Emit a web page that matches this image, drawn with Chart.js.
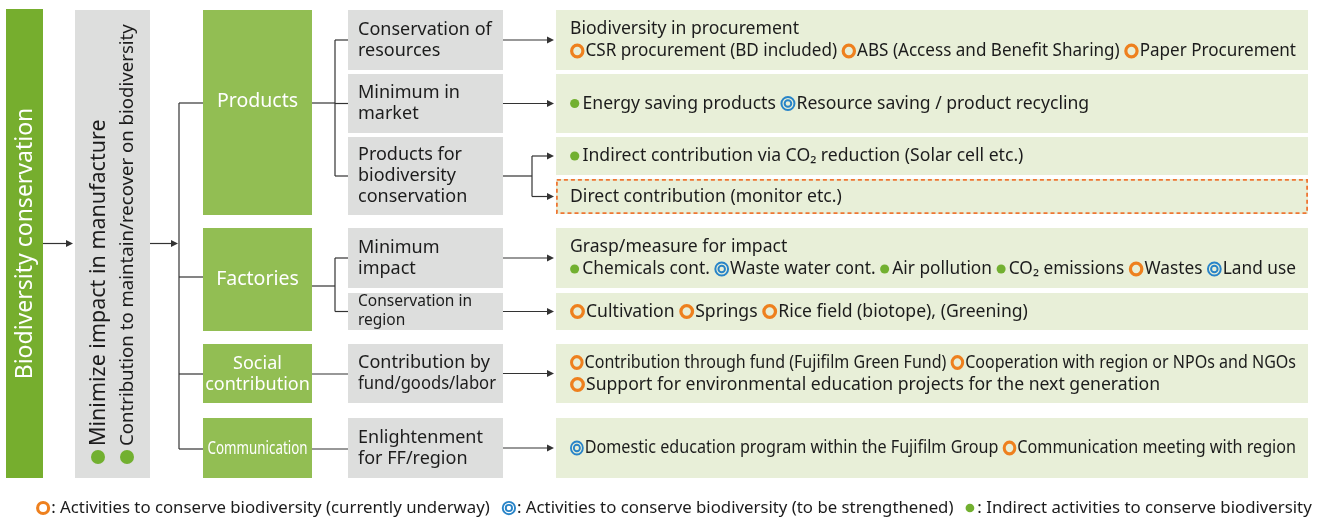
<!DOCTYPE html>
<html>
<head>
<meta charset="utf-8">
<script src="https://cdn.jsdelivr.net/npm/chart.js@4.4.1/dist/chart.umd.min.js"></script>
<style>
  body { margin: 0; background: #fff; }
  #chart { display: block; }
</style>
</head>
<body>
<canvas id="chart" width="1317" height="517"></canvas>
<script>
// diagram content
const rootLabel = 'Biodiversity conservation';
const aims = ['Minimize impact in manufacture', 'Contribution to maintain/recover on biodiversity'];
const areas = [['Products'], ['Factories'], ['Social', 'contribution'], ['Communication']];
const measures = [
  ['Conservation of', 'resources'],
  ['Minimum in', 'market'],
  ['Products for', 'biodiversity', 'conservation'],
  ['Minimum', 'impact'],
  ['Conservation in', 'region'],
  ['Contribution by', 'fund/goods/labor'],
  ['Enlightenment', 'for FF/region']
];
// {o} orange ring, {b} blue double ring, {g} green dot
const activities = [
  ['Biodiversity in procurement', '{o}CSR procurement (BD included) {o}ABS (Access and Benefit Sharing) {o}Paper Procurement'],
  ['{g}Energy saving products {b}Resource saving / product recycling'],
  ['{g}Indirect contribution via CO\u2082 reduction (Solar cell etc.)'],
  ['Direct contribution (monitor etc.)'],
  ['Grasp/measure for impact', '{g}Chemicals cont. {b}Waste water cont. {g}Air pollution {g}CO\u2082 emissions {o}Wastes {b}Land use'],
  ['{o}Cultivation {o}Springs {o}Rice field (biotope), (Greening)'],
  ['{o}Contribution through fund (Fujifilm Green Fund) {o}Cooperation with region or NPOs and NGOs', '{o}Support for environmental education projects for the next generation'],
  ['{b}Domestic education program within the Fujifilm Group {o}Communication meeting with region']
];
const legendMarks = ['o', 'b', 'g'];
const legendLabels = [
  'Activities to conserve biodiversity (currently underway)',
  'Activities to conserve biodiversity (to be strengthened)',
  'Indirect activities to conserve biodiversity'
];

// layout, in scale units
const rootBox = [6, 9, 43, 478];
const aimBox = [75, 10, 150, 478];
const areaCol = [203, 312];
const areaRows = [[10, 215], [228, 331], [344, 403], [418, 478]];
const areaInY = [103, 277, 374, 449];
const areaOutY = [103, 286, 374, 449];
const measureCol = [348, 503];
const measureRows = [[10, 70], [74, 133], [137, 215], [228, 288], [293, 330], [344, 403], [418, 478]];
const measureArea = [0, 0, 0, 1, 1, 2, 3];
const activityCol = [556, 1308];
const activityRows = [[10, 70], [74, 133], [137, 175], [179, 214], [228, 288], [293, 330], [344, 403], [418, 478]];
const activityMeasure = [0, 1, 2, 2, 3, 4, 5, 6];
const activityDashed = [false, false, false, true, false, false, false, false];

const FONT = '"Noto Sans", "Open Sans", sans-serif';
const C = {
  root: 'rgb(118,174,46)',
  area: 'rgb(146,190,83)',
  grey: 'rgb(221,222,221)',
  pale: 'rgb(232,239,216)',
  orange: 'rgb(238,128,30)',
  dash: 'rgb(238,118,50)',
  blue: 'rgb(40,132,200)',
  dot: 'rgb(114,176,48)',
  ink: '#1c1c1c',
  line: '#333'
};

function drawMark(ctx, kind, x, y, s) {
  s = s || 1;
  ctx.save();
  if (kind === 'o') {
    ctx.strokeStyle = C.orange;
    ctx.lineWidth = 3.3 * s;
    ctx.beginPath(); ctx.arc(x + 7.5 * s, y, 5.8 * s, 0, Math.PI * 2); ctx.stroke();
    ctx.restore();
    return 16 * s;
  }
  if (kind === 'b') {
    ctx.strokeStyle = C.blue;
    ctx.lineWidth = 2 * s;
    ctx.beginPath(); ctx.arc(x + 7.5 * s, y, 6.5 * s, 0, Math.PI * 2); ctx.stroke();
    ctx.beginPath(); ctx.arc(x + 7.5 * s, y, 3.3 * s, 0, Math.PI * 2); ctx.stroke();
    ctx.restore();
    return 16 * s;
  }
  ctx.fillStyle = C.dot;
  ctx.beginPath(); ctx.arc(x + 4.7 * s, y, 4.6 * s, 0, Math.PI * 2); ctx.fill();
  ctx.restore();
  return 12.5 * s;
}

// rich line: text runs with inline marks, squeezed if wider than maxW
function drawRich(ctx, str, x, y, maxW) {
  const parts = str.split(/\{([obg])\}/);
  let w = 0;
  parts.forEach((p, i) => {
    if (i % 2 === 1) w += p === 'g' ? 12.5 : 16;
    else if (p) w += ctx.measureText(p).width;
  });
  const k = w > maxW ? maxW / w : 1;
  ctx.save();
  ctx.translate(x, y);
  ctx.scale(k, 1);
  let cx = 0;
  parts.forEach((p, i) => {
    if (i % 2 === 1) {
      cx += drawMark(ctx, p, cx, 0);
    } else if (p) {
      ctx.fillText(p, cx, 0);
      cx += ctx.measureText(p).width;
    }
  });
  ctx.restore();
}

const diagram = {
  id: 'diagram',
  afterDraw(chart) {
    const ctx = chart.ctx;
    const X = v => chart.scales.x.getPixelForValue(v);
    const Y = v => chart.scales.y.getPixelForValue(v);
    const box = (x0, y0, x1, y1, fill) => {
      ctx.fillStyle = fill;
      ctx.fillRect(X(x0), Y(y0), X(x1) - X(x0), Y(y1) - Y(y0));
    };
    const line = (x0, y0, x1, y1) => {
      ctx.beginPath(); ctx.moveTo(X(x0), Y(y0)); ctx.lineTo(X(x1), Y(y1)); ctx.stroke();
    };
    const arrow = (x0, x1, y) => {
      line(x0, y, x1 - 5, y);
      ctx.beginPath();
      ctx.moveTo(X(x1), Y(y));
      ctx.lineTo(X(x1) - 7, Y(y) - 3.5);
      ctx.lineTo(X(x1) - 7, Y(y) + 3.5);
      ctx.closePath();
      ctx.fill();
    };
    const lines = (arr, x, yc, lh, align, maxW) => {
      ctx.textAlign = align;
      arr.forEach((t, i) => ctx.fillText(t, x, yc + (i - (arr.length - 1) / 2) * lh, maxW));
    };

    ctx.save();
    ctx.textBaseline = 'middle';

    // boxes
    box(...rootBox, C.root);
    box(...aimBox, C.grey);
    areaRows.forEach(r => box(areaCol[0], r[0], areaCol[1], r[1], C.area));
    measureRows.forEach(r => box(measureCol[0], r[0], measureCol[1], r[1], C.grey));
    activityRows.forEach((r, i) => {
      box(activityCol[0], r[0], activityCol[1], r[1], C.pale);
      if (activityDashed[i]) {
        ctx.save();
        ctx.strokeStyle = C.dash;
        ctx.lineWidth = 1.8;
        ctx.setLineDash([4, 3]);
        ctx.strokeRect(X(activityCol[0]) + 0.9, Y(r[0]) + 0.9, X(activityCol[1]) - X(activityCol[0]) - 1.8, Y(r[1]) - Y(r[0]) - 1.8);
        ctx.restore();
      }
    });

    // connectors
    ctx.strokeStyle = C.line;
    ctx.fillStyle = C.line;
    ctx.lineWidth = 1.2;
    const midY = (rootBox[1] + rootBox[3]) / 2;
    arrow(rootBox[2], aimBox[0] - 2, midY);
    const bx = 179;
    arrow(aimBox[2], bx - 1, midY);
    line(bx, areaInY[0], bx, areaInY[areaInY.length - 1]);
    areaInY.forEach(y => line(bx, y, areaCol[0], y));

    const mc = r => (r[0] + r[1]) / 2;
    areas.forEach((a, ai) => {
      const idx = measureArea.map((m, i) => m === ai ? i : -1).filter(i => i >= 0);
      if (idx.length === 1) {
        line(areaCol[1], areaOutY[ai], measureCol[0], areaOutY[ai]);
      } else {
        const kx = 335;
        line(areaCol[1], areaOutY[ai], kx, areaOutY[ai]);
        line(kx, mc(measureRows[idx[0]]), kx, mc(measureRows[idx[idx.length - 1]]));
        idx.forEach(i => line(kx, mc(measureRows[i]), measureCol[0], mc(measureRows[i])));
      }
    });
    measures.forEach((m, mi) => {
      const idx = activityMeasure.map((v, i) => v === mi ? i : -1).filter(i => i >= 0);
      const y = mc(measureRows[mi]);
      if (idx.length === 1) {
        arrow(measureCol[1], activityCol[0] - 2, y);
      } else {
        const kx = 532;
        line(measureCol[1], y, kx, y);
        line(kx, mc(activityRows[idx[0]]), kx, mc(activityRows[idx[idx.length - 1]]));
        idx.forEach(i => arrow(kx, activityCol[0] - 2, mc(activityRows[i])));
      }
    });

    // root label (vertical)
    ctx.save();
    ctx.translate(X((rootBox[0] + rootBox[2]) / 2), Y(midY));
    ctx.rotate(-Math.PI / 2);
    ctx.fillStyle = '#fff';
    ctx.font = '23px ' + FONT;
    ctx.textAlign = 'center';
    ctx.fillText(rootLabel, 0, 1);
    ctx.restore();

    // aims (vertical, bulleted)
    [98, 127].forEach((ax, i) => {
      ctx.save();
      ctx.translate(X(ax), Y(464));
      ctx.rotate(-Math.PI / 2);
      ctx.fillStyle = C.dot;
      ctx.beginPath(); ctx.arc(7, 0, 7, 0, Math.PI * 2); ctx.fill();
      ctx.fillStyle = C.ink;
      ctx.font = (i === 0 ? '21.5px ' : '18.6px ') + FONT;
      ctx.textAlign = 'left';
      ctx.fillText(aims[i], 18, 1);
      ctx.restore();
    });

    // area labels
    ctx.fillStyle = '#fff';
    areas.forEach((a, i) => {
      const cx = X((areaCol[0] + areaCol[1]) / 2);
      if (a.length > 1) {
        ctx.font = '18px ' + FONT;
        lines(a, cx, Y(374), 21, 'center');
      } else if (a[0].length > 10) {
        ctx.font = '17.5px ' + FONT;
        ctx.textAlign = 'center';
        ctx.fillText(a[0], cx, Y(449), 100);
      } else {
        ctx.font = '19.5px ' + FONT;
        lines(a, cx, Y(i === 0 ? 101 : 279), 21, 'center');
      }
    });

    // measure labels
    ctx.fillStyle = C.ink;
    measures.forEach((m, i) => {
      const small = i === 4;
      ctx.font = (small ? '15.5px ' : '18px ') + FONT;
      lines(m, X(measureCol[0] + 10), Y(mc(measureRows[i])), small ? 19 : 21, 'left', small ? 125 : 138);
    });

    // activities
    ctx.font = '17.6px ' + FONT;
    ctx.textAlign = 'left';
    activities.forEach((a, i) => {
      const cy = mc(activityRows[i]);
      a.forEach((t, k) => drawRich(ctx, t, X(activityCol[0] + 14), Y(cy + (k - (a.length - 1) / 2) * 22), X(activityCol[1]) - X(activityCol[0]) - 26));
    });

    // legend
    ctx.font = '16.8px ' + FONT;
    let lx = X(36);
    const ly = Y(508);
    legendMarks.forEach((mk, i) => {
      lx += drawMark(ctx, mk, lx, ly, 0.95);
      const t = ': ' + legendLabels[i];
      ctx.fillText(t, lx, ly);
      lx += ctx.measureText(t).width + 12;
    });

    ctx.restore();
  }
};

new Chart(document.getElementById('chart'), {
  type: 'scatter',
  data: { datasets: [] },
  options: {
    responsive: false,
    animation: false,
    layout: { padding: 0 },
    scales: {
      x: { type: 'linear', min: 0, max: 1317, display: false },
      y: { type: 'linear', min: 0, max: 517, reverse: true, display: false }
    },
    plugins: { legend: { display: false }, tooltip: { enabled: false } }
  },
  plugins: [diagram]
});
</script>
</body>
</html>
